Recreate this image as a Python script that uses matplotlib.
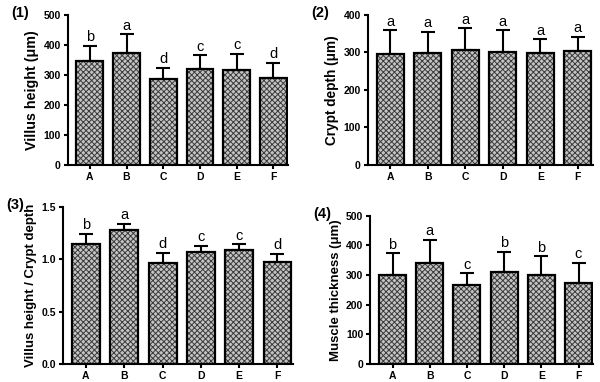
import numpy as np
import matplotlib
matplotlib.use("Agg")
import matplotlib.pyplot as plt

plt.rcParams['font.family'] = ['Liberation Sans', 'DejaVu Sans']
plt.rcParams['hatch.linewidth'] = 0.7

groups = ['A', 'B', 'C', 'D', 'E', 'F']

villus = [347, 373, 287, 319, 317, 289]
villus_err = [51, 63, 37, 47, 53, 51]
villus_sig = ['b', 'a', 'd', 'c', 'c', 'd']

crypt = [296, 298, 307, 302, 299, 304]
crypt_err = [63, 57, 58, 57, 36, 38]
crypt_sig = ['a', 'a', 'a', 'a', 'a', 'a']

ratio = [1.144, 1.277, 0.963, 1.071, 1.087, 0.972]
ratio_err = [0.099, 0.064, 0.102, 0.060, 0.057, 0.083]
ratio_sig = ['b', 'a', 'd', 'c', 'c', 'd']

muscle = [299, 342, 266, 311, 299, 272]
muscle_err = [75, 77, 41, 68, 64, 70]
muscle_sig = ['b', 'a', 'c', 'b', 'b', 'c']

panels = [
    ("(1)", "Villus height (μm)", villus, villus_err, villus_sig, 500, 100, "%d",
     [0.113, 0.568, 0.367, 0.393], 10.3),
    ("(2)", "Crypt depth (μm)", crypt, crypt_err, crypt_sig, 400, 100, "%d",
     [0.613, 0.568, 0.375, 0.393], 9.8),
    ("(3)", "Villus height / Crypt depth", ratio, ratio_err, ratio_sig, 1.5, 0.5, "%.1f",
     [0.105, 0.047, 0.383, 0.411], 9.5),
    ("(4)", "Muscle thickness (μm)", muscle, muscle_err, muscle_sig, 500, 100, "%d",
     [0.617, 0.047, 0.372, 0.388], 9.5),
]

fig = plt.figure(figsize=(6, 3.82), dpi=100)
x = np.arange(len(groups))

for tag, ylab, vals, errs, sig, ymax, step, fmt, rect, lsize in panels:
    ax = fig.add_axes(rect)
    # checkered fill, then the black outline on top
    ax.bar(x, vals, width=0.73, facecolor='#c4c4c4', edgecolor='#3a3a3a',
           linewidth=0, hatch='xxxxxx', zorder=2)
    ax.bar(x, vals, width=0.73, facecolor='none', edgecolor='black',
           linewidth=1.6, zorder=3)
    ax.errorbar(x, vals, yerr=[np.zeros(len(errs)), errs], fmt='none',
                ecolor='black', elinewidth=1.5, capsize=5, capthick=1.5, zorder=1)
    for xi, v, e, s in zip(x, vals, errs, sig):
        ax.text(xi, v + e + ymax * 0.01, s, ha='center', va='bottom', fontsize=10.5)
    ax.set_xlim(-0.6, 5.4)
    ax.set_ylim(0, ymax)
    ax.set_yticks(np.arange(0, ymax + step / 2, step))
    ax.yaxis.set_major_formatter(matplotlib.ticker.FormatStrFormatter(fmt))
    ax.set_xticks(x)
    ax.set_xticklabels(groups)
    ax.spines['top'].set_visible(False)
    ax.spines['right'].set_visible(False)
    ax.spines['left'].set_linewidth(1.5)
    ax.spines['bottom'].set_linewidth(1.5)
    ax.tick_params(width=1.5, length=3, labelsize=7.5, pad=2)
    for lab in ax.get_xticklabels() + ax.get_yticklabels():
        lab.set_fontweight('bold')
    ax.set_ylabel(ylab, fontsize=lsize, fontweight='bold', labelpad=3)
    fig.text(rect[0] - 0.095, rect[1] + rect[3] + 0.005, tag, fontsize=10.5,
             fontweight='bold', va='center')

fig.savefig("out.png", dpi=100)
